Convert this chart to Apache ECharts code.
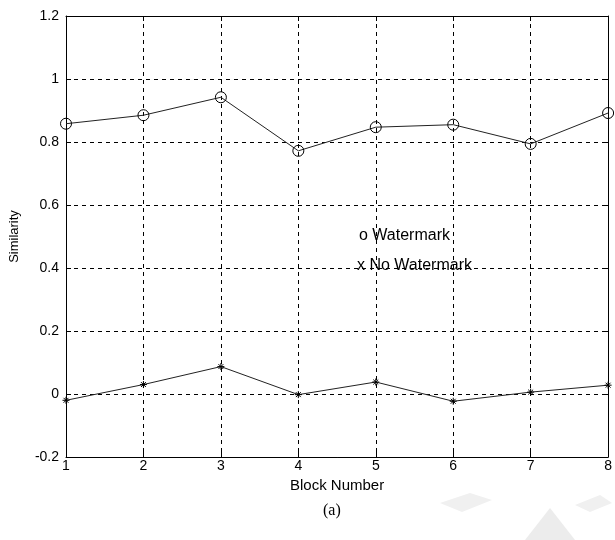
<!DOCTYPE html>
<html>
<head>
<meta charset="utf-8">
<script src="https://cdn.jsdelivr.net/npm/echarts@6/dist/echarts.min.js"></script>
<style>
  html, body { margin: 0; padding: 0; background: #fff; }
  #chart { width: 615px; height: 540px; }
</style>
</head>
<body>
<div id="chart"></div>
<script>
// Block indices and similarity scores per block
const blocks = [1, 2, 3, 4, 5, 6, 7, 8];
const withWatermark = [0.858, 0.885, 0.942, 0.772, 0.847, 0.855, 0.794, 0.892];
const noWatermark = [-0.020, 0.030, 0.087, -0.002, 0.038, -0.023, 0.006, 0.028];
const yTicks = [-0.2, 0, 0.2, 0.4, 0.6, 0.8, 1, 1.2];

const FONT = 'Liberation Sans, Arial, sans-serif';
const asterisk = 'path://M5,0L5,10M0,5L10,5M1.5,1.5L8.5,8.5M8.5,1.5L1.5,8.5';

const chart = echarts.init(document.getElementById('chart'), null, { renderer: 'canvas' });

const dashed = { show: true, lineStyle: { color: '#000', type: [4, 4], width: 1 } };
const tick = { show: true, inside: true, length: 5, lineStyle: { color: '#000' } };
const frameLine = { show: true, onZero: false, lineStyle: { color: '#000', width: 1 } };

chart.setOption({
  backgroundColor: '#fff',
  animation: false,
  grid: { left: 64, right: 3, top: 16, bottom: 83, containLabel: false },
  xAxis: [{
    type: 'value',
    min: 1, max: 8, interval: 1,
    name: 'Block Number',
    nameLocation: 'middle',
    nameGap: 12,
    nameTextStyle: { color: '#000', fontFamily: FONT, fontSize: 15, verticalAlign: 'top' },
    axisLine: frameLine,
    axisTick: tick,
    axisLabel: { color: '#000', fontFamily: FONT, fontSize: 14, margin: 2 },
    splitLine: dashed
  }, {
    type: 'value', position: 'top',
    min: 1, max: 8, interval: 1,
    axisLine: frameLine,
    axisTick: tick,
    axisLabel: { show: false },
    splitLine: { show: false }
  }],
  yAxis: [{
    type: 'value',
    min: -0.2, max: 1.2, interval: 0.2,
    name: 'Similarity',
    nameLocation: 'middle',
    nameGap: 45,
    nameTextStyle: { color: '#000', fontFamily: FONT, fontSize: 13 },
    axisLine: frameLine,
    axisTick: tick,
    axisLabel: {
      color: '#000', fontFamily: FONT, fontSize: 14, margin: 7,
      formatter: v => {
        const r = Math.round(v * 10) / 10;
        return yTicks.includes(r) ? String(r) : '';
      }
    },
    splitLine: dashed
  }, {
    type: 'value', position: 'right',
    min: -0.2, max: 1.2, interval: 0.2,
    axisLine: frameLine,
    axisTick: tick,
    axisLabel: { show: false },
    splitLine: { show: false }
  }],
  series: [{
    name: 'Watermark',
    type: 'line',
    data: blocks.map((b, i) => [b, withWatermark[i]]),
    symbol: 'circle',
    symbolSize: 11,
    showAllSymbol: true,
    lineStyle: { color: '#222', width: 1 },
    itemStyle: { color: 'rgba(0,0,0,0)', borderColor: '#000', borderWidth: 1 },
    clip: false
  }, {
    name: 'No Watermark',
    type: 'line',
    data: blocks.map((b, i) => [b, noWatermark[i]]),
    symbol: asterisk,
    symbolSize: 7,
    showAllSymbol: true,
    lineStyle: { color: '#222', width: 1 },
    itemStyle: { color: 'rgba(0,0,0,0)', borderColor: '#000', borderWidth: 1 },
    clip: false
  }],
  graphic: [
    { type: 'polygon', silent: true, z: 0,
      shape: { points: [[440, 503], [470, 493], [492, 500], [462, 512]] },
      style: { fill: '#f0f0f0' } },
    { type: 'polygon', silent: true, z: 0,
      shape: { points: [[525, 540], [550, 508], [575, 540]] },
      style: { fill: '#ececec' } },
    { type: 'polygon', silent: true, z: 0,
      shape: { points: [[575, 505], [600, 495], [612, 503], [590, 512]] },
      style: { fill: '#f0f0f0' } },
    { type: 'text', left: 359, top: 228, z: 10,
      style: { text: 'o Watermark', font: '16px ' + FONT, fill: '#000' } },
    { type: 'text', left: 357, top: 258, z: 10,
      style: { text: 'x No Watermark', font: '16px ' + FONT, fill: '#000' } },
    { type: 'text', left: 323, top: 503, z: 10,
      style: { text: '(a)', font: '16px Liberation Serif, Times New Roman, serif', fill: '#000' } }
  ]
});
</script>
</body>
</html>
